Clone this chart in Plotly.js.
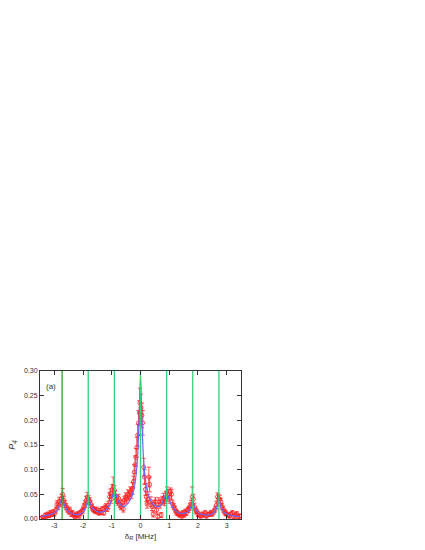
<!DOCTYPE html>
<html><head><meta charset="utf-8">
<script src="https://cdn.plot.ly/plotly-3.0.1.min.js"></script>
<style>html,body{margin:0;padding:0;background:#fff}</style>
</head><body><div id="chart" style="width:425px;height:550px"></div>
<script>
// measured data points (detuning in MHz, probability, error)
var dataX = [-3.45,-3.40,-3.36,-3.31,-3.27,-3.22,-3.18,-3.13,-3.09,-3.04,-3.00,-2.95,-2.91,-2.87,-2.83,-2.79,-2.75,-2.71,-2.67,-2.63,-2.59,-2.55,-2.50,-2.46,-2.41,-2.37,-2.32,-2.28,-2.23,-2.19,-2.14,-2.10,-2.05,-2.01,-1.97,-1.93,-1.89,-1.85,-1.81,-1.77,-1.73,-1.69,-1.65,-1.61,-1.57,-1.53,-1.49,-1.45,-1.41,-1.37,-1.33,-1.28,-1.24,-1.20,-1.16,-1.12,-1.08,-1.05,-1.02,-0.98,-0.95,-0.91,-0.88,-0.84,-0.80,-0.76,-0.72,-0.68,-0.64,-0.60,-0.56,-0.52,-0.48,-0.44,-0.40,-0.36,-0.32,-0.28,-0.25,-0.22,-0.19,-0.16,-0.13,-0.10,-0.07,-0.04,-0.02,0.02,0.05,0.08,0.11,0.14,0.17,0.20,0.23,0.26,0.29,0.32,0.36,0.40,0.44,0.48,0.52,0.56,0.60,0.64,0.68,0.72,0.76,0.80,0.84,0.88,0.92,0.96,1.00,1.04,1.08,1.12,1.16,1.20,1.24,1.28,1.32,1.36,1.40,1.44,1.48,1.52,1.56,1.60,1.64,1.68,1.72,1.76,1.80,1.84,1.88,1.92,1.96,2.00,2.05,2.10,2.15,2.20,2.25,2.30,2.35,2.40,2.45,2.50,2.55,2.60,2.64,2.68,2.72,2.76,2.80,2.84,2.88,2.92,2.96,3.00,3.05,3.10,3.15,3.20,3.25,3.30,3.35,3.40,3.45];
var dataY = [0.002,0.004,0.003,0.008,0.006,0.010,0.007,0.012,0.009,0.014,0.011,0.018,0.030,0.025,0.036,0.033,0.042,0.050,0.038,0.030,0.025,0.020,0.015,0.018,0.010,0.012,0.008,0.004,0.008,0.010,0.006,0.012,0.015,0.018,0.025,0.030,0.038,0.045,0.040,0.036,0.030,0.024,0.020,0.018,0.016,0.019,0.014,0.012,0.017,0.013,0.020,0.012,0.022,0.025,0.020,0.028,0.045,0.052,0.040,0.060,0.065,0.058,0.048,0.040,0.035,0.042,0.030,0.025,0.033,0.020,0.038,0.045,0.040,0.050,0.048,0.055,0.052,0.062,0.075,0.095,0.110,0.125,0.145,0.170,0.195,0.215,0.235,0.225,0.210,0.195,0.105,0.085,0.060,0.045,0.030,0.040,0.085,0.070,0.035,0.025,0.010,0.030,0.035,0.018,0.005,0.035,0.030,0.008,0.038,0.042,0.035,0.045,0.055,0.050,0.040,0.055,0.050,0.030,0.025,0.020,0.015,0.012,0.010,0.008,0.010,0.006,0.012,0.008,0.015,0.012,0.018,0.020,0.025,0.030,0.045,0.040,0.025,0.018,0.015,0.010,0.008,0.006,0.010,0.008,0.012,0.006,0.010,0.009,0.012,0.010,0.015,0.020,0.028,0.045,0.042,0.040,0.035,0.025,0.020,0.015,0.012,0.010,0.008,0.006,0.010,0.012,0.005,0.008,0.010,0.004,0.006];
var dataErr = [0.003,0.003,0.003,0.004,0.004,0.004,0.004,0.005,0.004,0.005,0.005,0.006,0.007,0.006,0.008,0.007,0.008,0.012,0.008,0.007,0.006,0.006,0.005,0.006,0.005,0.005,0.004,0.004,0.004,0.005,0.004,0.005,0.005,0.006,0.006,0.007,0.008,0.009,0.008,0.007,0.007,0.006,0.005,0.005,0.005,0.005,0.004,0.004,0.005,0.004,0.005,0.004,0.006,0.006,0.005,0.007,0.008,0.009,0.008,0.010,0.020,0.010,0.009,0.008,0.007,0.008,0.007,0.006,0.007,0.006,0.008,0.008,0.008,0.009,0.009,0.010,0.010,0.012,0.012,0.015,0.018,0.018,0.020,0.022,0.025,0.025,0.030,0.028,0.025,0.025,0.018,0.015,0.012,0.010,0.008,0.010,0.020,0.015,0.010,0.008,0.006,0.008,0.008,0.006,0.005,0.008,0.008,0.005,0.008,0.010,0.008,0.010,0.010,0.010,0.008,0.008,0.010,0.007,0.006,0.006,0.005,0.005,0.004,0.004,0.004,0.004,0.005,0.004,0.005,0.005,0.005,0.006,0.007,0.008,0.020,0.010,0.007,0.006,0.005,0.005,0.004,0.004,0.004,0.004,0.005,0.004,0.004,0.004,0.005,0.004,0.005,0.006,0.007,0.008,0.008,0.008,0.007,0.006,0.006,0.005,0.005,0.004,0.004,0.004,0.004,0.005,0.004,0.004,0.005,0.004,0.004];
// fitted curve
var fitX = [-3.45,-3.3,-3.1,-2.95,-2.85,-2.78,-2.73,-2.68,-2.6,-2.5,-2.4,-2.25,-2.1,-2.0,-1.92,-1.86,-1.82,-1.77,-1.7,-1.6,-1.45,-1.3,-1.15,-1.05,-0.97,-0.91,-0.85,-0.77,-0.68,-0.6,-0.5,-0.4,-0.3,-0.2,-0.12,-0.06,-0.02,0,0.02,0.06,0.12,0.2,0.3,0.4,0.5,0.6,0.7,0.78,0.85,0.91,0.97,1.05,1.15,1.3,1.45,1.6,1.7,1.77,1.82,1.87,1.95,2.1,2.3,2.45,2.55,2.63,2.69,2.73,2.78,2.85,3.0,3.2,3.45];
var fitY = [0.005,0.007,0.010,0.015,0.024,0.035,0.045,0.035,0.022,0.015,0.011,0.009,0.010,0.014,0.022,0.033,0.043,0.034,0.024,0.018,0.014,0.015,0.022,0.033,0.048,0.057,0.048,0.036,0.028,0.025,0.028,0.035,0.046,0.070,0.110,0.180,0.260,0.290,0.260,0.180,0.110,0.068,0.044,0.033,0.027,0.025,0.028,0.036,0.046,0.053,0.045,0.032,0.021,0.013,0.011,0.013,0.018,0.026,0.034,0.026,0.017,0.010,0.008,0.009,0.013,0.020,0.030,0.040,0.028,0.018,0.010,0.007,0.005];
// resonance positions (green lines)
var resX = [-2.73,-1.82,-0.91,0,0.91,1.82,2.73];
var xTicks = [-3,-2,-1,0,1,2,3];
var yTicks = [0,0.05,0.10,0.15,0.20,0.25,0.30];

var traces = [];
traces.push({x:dataX, y:dataY, type:'scatter', mode:'markers',
  marker:{symbol:'circle-open', color:'#ff2020', size:4, line:{width:0.8, color:'#ff2020'}},
  error_y:{type:'data', array:dataErr, visible:true, color:'#ff2020', thickness:0.8, width:2},
  showlegend:false, hoverinfo:'skip'});
traces.push({x:fitX, y:fitY, type:'scatter', mode:'lines', line:{color:'#6a6aff', width:1.2, shape:'spline', smoothing:0.6}, showlegend:false, hoverinfo:'skip'});
resX.forEach(function(rx, i){
  traces.push({x:[rx, rx], y:[0, 0.3], type:'scatter', mode:'lines',
    line:{color: i===0 ? '#2aa02a' : '#33d17a', width:1.3}, showlegend:false, hoverinfo:'skip'});
});

var axCommon = {showline:true, mirror:'ticks', ticks:'inside', ticklen:4, tickwidth:1,
  tickcolor:'#333', linecolor:'#333', linewidth:1, showgrid:false, zeroline:false,
  tickfont:{family:'Liberation Sans, Arial, sans-serif', size:7, color:'#333'}};

var layout = {
  width:425, height:550, paper_bgcolor:'#fff', plot_bgcolor:'#fff',
  margin:{l:40, r:184, t:371, b:31},
  showlegend:false,
  xaxis: Object.assign({}, axCommon, {range:[-3.5,3.5], tickvals:xTicks, ticktext:xTicks.map(String),
    title:{text:'δ<sub><i>R</i></sub> [MHz]', standoff:4, font:{family:'Liberation Sans, Arial, sans-serif', size:8, color:'#333'}}}),
  yaxis: Object.assign({}, axCommon, {range:[0,0.3], tickvals:yTicks, tickformat:'.2f',
    title:{text:'<i>P</i><sub><i>4</i></sub>', standoff:6, font:{family:'Liberation Sans, Arial, sans-serif', size:9, color:'#333'}}}),
  annotations:[{x:-3.13, y:0.268, xref:'x', yref:'y', text:'(a)', showarrow:false,
    font:{family:'Liberation Sans, Arial, sans-serif', size:8, color:'#333'}}]
};
Plotly.newPlot('chart', traces, layout, {staticPlot:true, displayModeBar:false});
</script></body></html>
